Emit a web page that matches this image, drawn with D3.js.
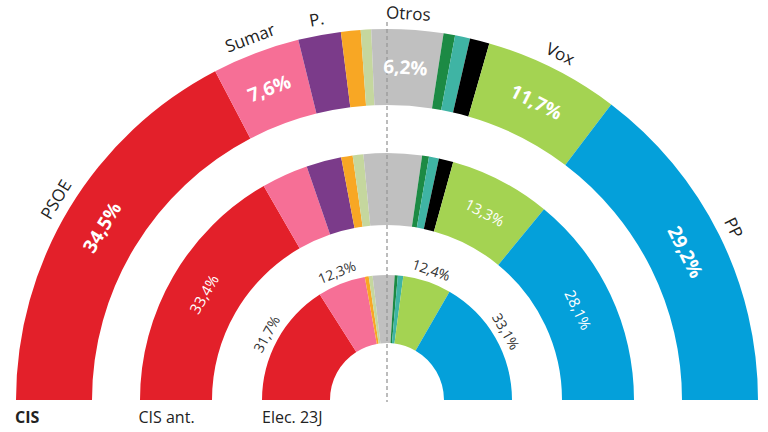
<!DOCTYPE html>
<html>
<head>
<meta charset="utf-8">
<script src="https://cdn.jsdelivr.net/npm/d3@7"></script>
<style>
  body { margin: 0; background: #fff; }
  text { font-family: "Open Sans", "Noto Sans", sans-serif; }
</style>
</head>
<body>
<div id="svg-area"></div>
<script>
var svgWidth = 768;
var svgHeight = 432;

// parties, left to right
var parties = ["PSOE", "Sumar", "Podemos", "CC", "BNG", "Otros", "Bildu", "ERC", "Junts", "Vox", "PP"];
var colors = ["#e3202a", "#f66f96", "#7b3b8a", "#f8a724", "#c5d79e", "#c0c0c0", "#1c8a44", "#3fb4a4", "#000000", "#a4d352", "#04a0da"];

// vote estimate (%) per survey
var cis     = [34.5, 7.6, 3.7, 1.7, 0.9, 6.2, 1.0, 1.3, 1.7, 11.7, 29.2];
var cisAnt  = [33.4, 6.1, 4.6, 1.5, 1.4, 7.6, 0.9, 1.3, 1.9, 13.3, 28.1];
var elec23J = [31.7, 12.3, 0, 1.0, 1.0, 5.6, 0.8, 1.4, 0, 12.4, 33.1];

// name labels above the outer ring
var nameLabels = ["PSOE", "Sumar", "P.", "", "", "Otros", "", "", "", "Vox", "PP"];

// which value labels are shown in each ring
var cisShown = ["PSOE", "Sumar", "Otros", "Vox", "PP"];
var cisAntShown = ["PSOE", "Vox", "PP"];
var elecShown = ["PSOE", "Sumar", "Vox", "PP"];

var ringNames = ["CIS", "CIS ant.", "Elec. 23J"];

var cx = 387, cy = 400;

var svg = d3.select("#svg-area")
  .append("svg")
  .attr("width", svgWidth)
  .attr("height", svgHeight);

var g = svg.append("g").attr("transform", "translate(" + cx + "," + cy + ")");
var arcLayer = g.append("g");
var lineLayer = g.append("g");
var labelLayer = g.append("g");

var pie = d3.pie()
  .sort(null)
  .startAngle(-Math.PI / 2)
  .endAngle(Math.PI / 2)
  .value(d => d.value);

function fmt(v) {
  return String(v.toFixed(1)).replace(".", ",") + "%";
}

function toData(values) {
  return values.map((v, i) => ({ party: parties[i], color: colors[i], value: v, name: nameLabels[i] }));
}

var rings = [
  { values: cis,     inner: 295, outer: 371, shown: cisShown,    labelR: 333, size: 19, weight: "bold", fill: "#fff" },
  { values: cisAnt,  inner: 175, outer: 247, shown: cisAntShown, labelR: 211, size: 15, weight: "normal", fill: "#fff" },
  { values: elec23J, inner: 57,  outer: 125, shown: elecShown,   labelR: 137, size: 14, weight: "normal", fill: "#333" }
];

function mid(d) { return (d.startAngle + d.endAngle) / 2; }
function deg(a) { return a * 180 / Math.PI; }

rings.forEach(function(ring) {
  var arcs = pie(toData(ring.values));
  var arc = d3.arc().innerRadius(ring.inner).outerRadius(ring.outer);

  arcLayer.append("g").selectAll("path")
    .data(arcs)
    .enter()
    .append("path")
    .attr("d", arc)
    .attr("fill", d => d.data.color);

  labelLayer.append("g").selectAll("text")
    .data(arcs.filter(d => ring.shown.indexOf(d.data.party) >= 0))
    .enter()
    .append("text")
    .attr("transform", function(d) {
      var a = mid(d);
      return "translate(" + (ring.labelR * Math.sin(a)) + "," + (-ring.labelR * Math.cos(a)) + ") rotate(" + deg(a) + ")";
    })
    .attr("text-anchor", "middle")
    .attr("dy", "0.35em")
    .attr("font-size", ring.size)
    .attr("font-weight", ring.weight)
    .attr("fill", ring.fill)
    .text(d => fmt(d.data.value));
});

// party names outside the outer ring
var outerArcs = pie(toData(cis));
labelLayer.append("g").selectAll("text")
  .data(outerArcs.filter(d => d.data.name !== ""))
  .enter()
  .append("text")
  .attr("transform", function(d) {
    var a = mid(d), r = 387;
    return "translate(" + (r * Math.sin(a)) + "," + (-r * Math.cos(a)) + ") rotate(" + deg(a) + ")";
  })
  .attr("text-anchor", "middle")
  .attr("dy", "0.35em")
  .attr("font-size", 17)
  .attr("fill", "#222")
  .text(d => d.data.name);

// dashed centre line
lineLayer.append("line")
  .attr("x1", 0).attr("x2", 0)
  .attr("y1", -378).attr("y2", 2)
  .attr("stroke", "#999")
  .attr("stroke-width", 1.3)
  .attr("stroke-dasharray", "4,3");

// ring names along the bottom
var nameX = d3.scalePoint().domain(ringNames).range([15, 262]);
svg.append("g").selectAll("text")
  .data(ringNames)
  .enter()
  .append("text")
  .attr("x", d => nameX(d))
  .attr("y", 423)
  .attr("font-size", 16)
  .attr("font-weight", (d, i) => i === 0 ? "bold" : "normal")
  .attr("fill", "#222")
  .text(d => d);
</script>
</body>
</html>
